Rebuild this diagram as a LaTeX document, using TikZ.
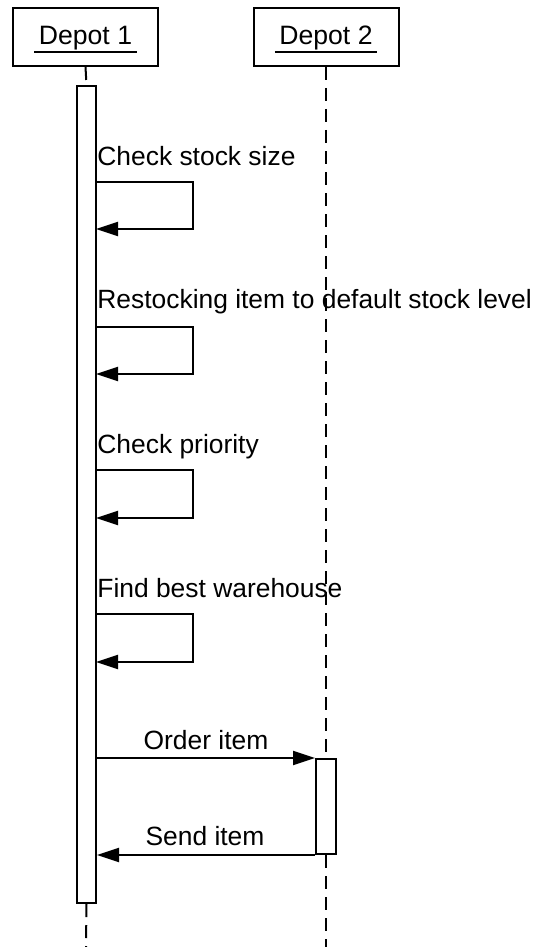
\documentclass[tikz,border=0pt]{standalone}
\usepackage{fontspec}
\setmainfont{Liberation Sans}
\usetikzlibrary{arrows.meta,positioning,calc}

% underlined object name
\newcommand{\objname}[1]{\raisebox{-1.2pt}[\height][\depth]{\vtop{\hbox{\,#1\,}\kern0.3pt\hrule height 1pt}}}

\begin{document}
\begin{tikzpicture}[
    x=0.5pt, y=-0.5pt,
    obj/.style={rectangle, draw=black, fill=white, line width=1pt, minimum width=72.5pt, minimum height=29pt, inner sep=0pt, font=\fontsize{13.3}{16}\selectfont},
    actbar/.style={rectangle, draw=black, fill=white, line width=1pt, minimum width=9.5pt, inner sep=0pt},
    lifeline/.style={draw=black, line width=1pt, dash pattern=on 6.5pt off 4pt},
    msg/.style={-{Triangle[length=11pt, width=7pt]}, line width=1pt, draw=black},
    lbl/.style={inner sep=0pt, font=\fontsize{13.2}{16}\selectfont}
]
    \useasboundingbox (0,0) rectangle (537,947);

    % objects
    \node [obj] (d1) at (85.5,37) {\objname{Depot 1}};
    \node [obj] (d2) at (326,37) {\objname{Depot 2}};

    % activation bars
    \node [actbar, minimum height=408.5pt] (act1) at (86.5,494.5) {};
    \node [actbar, minimum height=47.5pt, minimum width=10pt] (act2) at (326,806.5) {};
    \coordinate (end1) at (86,947);
    \coordinate (end2) at (326,947);

    % lifelines
    \draw [lifeline] (d1.south) -- (act1.north);
    \draw [lifeline] (act1.south) -- (end1);
    \draw [lifeline] (d2.south) -- (act2.north);
    \draw [lifeline] (act2.south) -- (end2);

    % self messages
    \coordinate (m1a) at (96,182); \coordinate (m1b) at (96,229);
    \coordinate (m2a) at (96,327); \coordinate (m2b) at (96,374);
    \coordinate (m3a) at (96,470); \coordinate (m3b) at (96,518);
    \coordinate (m4a) at (96,614); \coordinate (m4b) at (96,662);

    \draw [msg] (m1a) -- ++(97,0) |- (m1b);
    \draw [msg] (m2a) -- ++(97,0) |- (m2b);
    \draw [msg] (m3a) -- ++(97,0) |- (m3b);
    \draw [msg] (m4a) -- ++(97,0) |- (m4b);

    \node [lbl, anchor=base west] (l1) at (97,165) {Check stock size};
    \node [lbl, anchor=base west] (l2) at (97,308) {Restocking item to default stock level};
    \node [lbl, anchor=base west] (l3) at (97,453) {Check priority};
    \node [lbl, anchor=base west] (l4) at (97,597) {Find best warehouse};

    % messages between depots
    \draw [msg] (act1.east |- act2.north) -- (act2.north west);
    \draw [msg] (act2.south west) -- (act1.east |- act2.south);

    \node [lbl, anchor=base] (l5) at (206,749) {Order item};
    \node [lbl, anchor=base] (l6) at (205,845) {Send item};
\end{tikzpicture}
\end{document}
